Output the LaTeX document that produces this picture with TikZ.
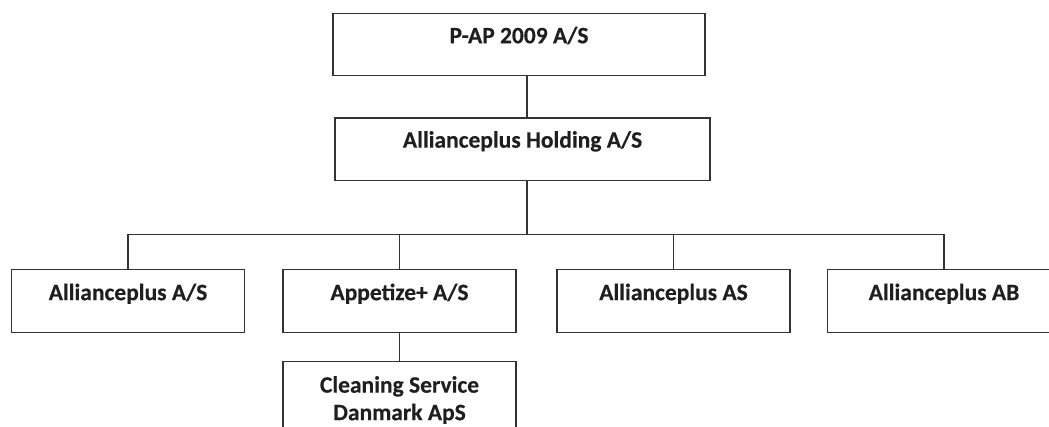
\documentclass[tikz,border=0pt]{standalone}
\usepackage{fontspec}
\setmainfont{Carlito}[BoldFeatures={FakeBold=0.35}]
\begin{document}
\begin{tikzpicture}[x=1pt,y=-1pt,
  box/.style={draw=black!80, line width=1.3pt, inner sep=0pt, minimum width=233pt,
    font=\fontsize{23.5}{27.5}\selectfont\bfseries, text=black!88, anchor=north,
    text height=30.5pt, text depth=32.5pt},
  link/.style={draw=black!80, line width=1.3pt}]
\clip (0,0) rectangle (1049,427);
\node[box, minimum width=372pt, text height=29.6pt, text depth=32.4pt] (top) at (519,13) {P-AP 2009 A/S};
\node[box, minimum width=375pt, text height=29.7pt, text depth=33pt] (hold) at (522.5,117.3) {Allianceplus Holding A/S};
\node[box] (a1) at (128,269) {Allianceplus A/S};
\node[box] (a2) at (399.5,269) {Appetize+ A/S};
\node[box] (a3) at (673.5,269) {Allianceplus AS};
\node[box] (a4) at (944,269) {Allianceplus AB};
\node[box, text height=31pt, text depth=60pt] (clean) at (399.5,361)
  {\parbox[t]{220pt}{\centering Cleaning Service\\Danmark ApS}};
\coordinate (bar) at (527,234.2);
\draw[link] (top.south -| bar) -- (hold.north -| bar);
\draw[link] (hold.south -| bar) -- (bar);
\draw[link] (a1.north) -- (a1.north |- bar) -- (a4.north |- bar) -- (a4.north);
\draw[link] (a2.north) -- (a2.north |- bar);
\draw[link] (a3.north) -- (a3.north |- bar);
\draw[link] (a2.south) -- (clean.north);
\end{tikzpicture}
\end{document}
